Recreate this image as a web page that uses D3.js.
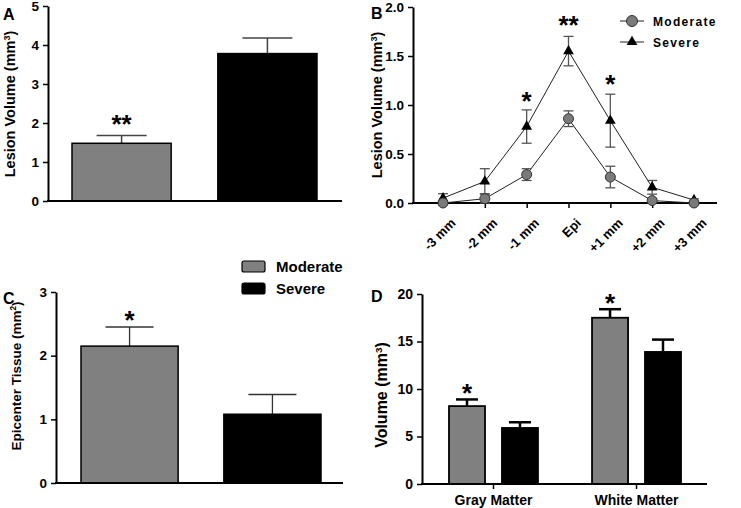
<!DOCTYPE html>
<html><head><meta charset="utf-8">
<script src="https://cdn.jsdelivr.net/npm/d3@7"></script>
<style>
body{margin:0;background:#fff;}
svg text{font-family:"Liberation Sans",Arial,sans-serif;font-weight:bold;}
</style></head>
<body>
<svg id="c" width="741" height="508"></svg>
<script>
// ---- data ----
const groupNames = ["Moderate", "Severe"];
// Panel A
const aValues = [1.48, 3.78];
const aErrors = [0.20, 0.40];
const aTicks = [0, 1, 2, 3, 4, 5];
// Panel B
const bPositions = ["-3 mm", "-2 mm", "-1 mm", "Epi", "+1 mm", "+2 mm", "+3 mm"];
const bModerate = [0.0, 0.044, 0.29, 0.86, 0.265, 0.025, 0.0];
const bModerateErr = [0.0, 0.05, 0.06, 0.08, 0.11, 0.02, 0.0];
const bSevere = [0.05, 0.22, 0.78, 1.55, 0.84, 0.16, 0.03];
const bSevereErr = [0.045, 0.13, 0.17, 0.15, 0.27, 0.07, 0.012];
const bTicks = [0, 0.5, 1.0, 1.5, 2.0];
const bStars = ["", "", "*", "**", "*", "", ""];
// Panel C
const cValues = [2.15, 1.08];
const cErrors = [0.30, 0.31];
const cTicks = [0, 1, 2, 3];
// Panel D
const dRegions = ["Gray Matter", "White Matter"];
const dModerate = [8.2, 17.5];
const dModerateErr = [0.7, 0.9];
const dSevere = [5.9, 13.9];
const dSevereErr = [0.6, 1.3];
const dTicks = [0, 5, 10, 15, 20];

const colors = {Moderate: "#808080", Severe: "#000000"};
const svg = d3.select("#c");

function yAxis(g, y, ticks, fmt, x, fs) {
  const ax = g.append("g").attr("transform", `translate(${x},0)`)
    .call(d3.axisLeft(y).tickValues(ticks).tickFormat(fmt).tickSize(5).tickSizeOuter(0).tickPadding(4));
  ax.select(".domain").attr("stroke-width", 2).attr("stroke", "#000");
  ax.selectAll(".tick line").attr("stroke-width", 1.5).attr("stroke", "#000");
  ax.selectAll(".tick text").attr("font-size", fs || 13).attr("fill", "#000")
    .attr("font-family", "Liberation Sans, Arial, sans-serif").attr("font-weight", "bold");
  return ax;
}
function hLine(g, x1, x2, y) {
  g.append("line").attr("x1", x1).attr("x2", x2).attr("y1", y).attr("y2", y)
    .attr("stroke", "#000").attr("stroke-width", 2);
}
function yLabel(g, x, y, parts, fs) {
  const t = g.append("text").attr("transform", `translate(${x},${y}) rotate(-90)`)
    .attr("text-anchor", "middle").attr("font-size", fs).attr("fill", "#000");
  parts.forEach(p => {
    const ts = t.append("tspan").text(p.t);
    if (p.sup) ts.attr("baseline-shift", "super").attr("font-size", fs * 0.62);
  });
}
function panelLetter(x, y, s) {
  svg.append("text").attr("x", x).attr("y", y).attr("font-size", 16).text(s);
}
function star(g, x, y, s) {
  g.append("text").attr("x", x).attr("y", y + 15).attr("text-anchor", "middle")
    .attr("font-size", 26).text(s);
}
function upErr(g, x, yTop, yBar, w, color, sw) {
  g.append("line").attr("x1", x).attr("x2", x).attr("y1", yBar).attr("y2", yTop)
    .attr("stroke", color).attr("stroke-width", sw);
  g.append("line").attr("x1", x - w / 2).attr("x2", x + w / 2).attr("y1", yTop).attr("y2", yTop)
    .attr("stroke", color).attr("stroke-width", sw);
}

// ===== Panel A =====
{
  const g = svg.append("g");
  const x = d3.scaleBand().domain(groupNames).range([72, 317]).paddingInner(0.32).paddingOuter(0);
  const y = d3.scaleLinear().domain([0, 5]).range([201, 6]);
  groupNames.forEach((k, i) => {
    upErr(g, x(k) + x.bandwidth() / 2, y(aValues[i] + aErrors[i]), y(aValues[i]), 50, "#444", 1.5);
  });
  g.selectAll("rect").data(groupNames).enter().append("rect")
    .attr("x", d => x(d)).attr("width", x.bandwidth())
    .attr("y", (d, i) => y(aValues[i])).attr("height", (d, i) => y(0) - y(aValues[i]))
    .attr("fill", d => colors[d]).attr("stroke", "#000").attr("stroke-width", 1.5);
  yAxis(g, y, aTicks, d3.format("d"), 48, 13.5);
  hLine(g, 47, 342, y(0));
  star(g, x("Moderate") + x.bandwidth() / 2, 118, "**");
  yLabel(g, 15, 104, [{t: "Lesion  Volume (mm"}, {t: "3", sup: true}, {t: ")"}], 14.5);
  panelLetter(3, 20, "A");
}

// ===== Panel B =====
{
  const g = svg.append("g");
  const x = d3.scalePoint().domain(bPositions).range([443, 694]);
  const y = d3.scaleLinear().domain([0, 2]).range([203, 7]);
  yAxis(g, y, bTicks, d3.format(".1f"), 413, 13.5);
  const xa = g.append("g").attr("transform", `translate(0,${y(0)})`)
    .call(d3.axisBottom(x).tickSize(5).tickSizeOuter(0).tickPadding(3));
  xa.select(".domain").remove();
  xa.selectAll(".tick line").attr("stroke-width", 1.5);
  xa.selectAll(".tick text").attr("font-size", 13).attr("fill", "#000")
    .attr("font-family", "Liberation Sans, Arial, sans-serif").attr("font-weight", "bold")
    .attr("text-anchor", "end").attr("dy", "0.35em")
    .attr("transform", "translate(4,12) rotate(-45)");
  hLine(g, 412, 717, y(0));

  const line = d3.line().x((d, i) => x(bPositions[i])).y(d => y(d));
  g.append("path").datum(bModerate).attr("d", line).attr("fill", "none").attr("stroke", "#222").attr("stroke-width", 1);
  g.append("path").datum(bSevere).attr("d", line).attr("fill", "none").attr("stroke", "#222").attr("stroke-width", 1);

  function errs(vals, errsArr) {
    vals.forEach((v, i) => {
      const cx = x(bPositions[i]);
      if (errsArr[i] <= 0) return;
      const t = y(v + errsArr[i]), b = y(Math.max(0, v - errsArr[i]));
      g.append("line").attr("x1", cx).attr("x2", cx).attr("y1", t).attr("y2", b).attr("stroke", "#555").attr("stroke-width", 1.3);
      [t, b].forEach(yy => g.append("line").attr("x1", cx - 5).attr("x2", cx + 5).attr("y1", yy).attr("y2", yy)
        .attr("stroke", "#555").attr("stroke-width", 1.3));
    });
  }
  errs(bSevere, bSevereErr);
  errs(bModerate, bModerateErr);
  const tri = d3.symbol().type(d3.symbolTriangle).size(50);
  g.selectAll(".tri").data(bSevere).enter().append("path").attr("class", "tri")
    .attr("d", tri).attr("transform", (d, i) => `translate(${x(bPositions[i])},${y(d)})`).attr("fill", "#000");
  g.selectAll(".cir").data(bModerate).enter().append("circle").attr("class", "cir")
    .attr("cx", (d, i) => x(bPositions[i])).attr("cy", d => y(d)).attr("r", 5)
    .attr("fill", "#7a7a7a").attr("stroke", "#333").attr("stroke-width", 1);
  const starY = {2: 95, 3: 19, 4: 78};
  bStars.forEach((s, i) => { if (s) star(g, x(bPositions[i]), starY[i], s); });

  // legend
  const lg = g.append("g");
  [[groupNames[0], 21], [groupNames[1], 42]].forEach(([name, ly]) => {
    lg.append("line").attr("x1", 620).attr("x2", 644).attr("y1", ly).attr("y2", ly).attr("stroke", "#222").attr("stroke-width", 1);
    if (name === "Moderate") {
      lg.append("circle").attr("cx", 632).attr("cy", ly).attr("r", 5.5).attr("fill", "#7a7a7a").attr("stroke", "#333");
    } else {
      lg.append("path").attr("d", tri).attr("transform", `translate(632,${ly})`).attr("fill", "#000");
    }
    lg.append("text").attr("x", 653).attr("y", ly + 4.5).attr("font-size", 12).attr("letter-spacing", 1.3).text(name);
  });
  yLabel(g, 382, 105, [{t: "Lesion  Volume (mm"}, {t: "3", sup: true}, {t: ")"}], 14.5);
  panelLetter(371, 19, "B");
}

// ===== Panel C =====
{
  const g = svg.append("g");
  const x = d3.scaleBand().domain(groupNames).range([81, 321]).paddingInner(0.32).paddingOuter(0);
  const y = d3.scaleLinear().domain([0, 3]).range([483, 292]);
  groupNames.forEach((k, i) => {
    upErr(g, x(k) + x.bandwidth() / 2, y(cValues[i] + cErrors[i]), y(cValues[i]), 48, "#333", 1.3);
  });
  g.selectAll("rect").data(groupNames).enter().append("rect")
    .attr("x", d => x(d)).attr("width", x.bandwidth())
    .attr("y", (d, i) => y(cValues[i])).attr("height", (d, i) => y(0) - y(cValues[i]))
    .attr("fill", d => colors[d]).attr("stroke", "#000").attr("stroke-width", 1.5);
  yAxis(g, y, cTicks, d3.format("d"), 56, 13.5);
  hLine(g, 55, 343, y(0));
  star(g, x("Moderate") + x.bandwidth() / 2, 314, "*");
  yLabel(g, 21, 376, [{t: "Epicenter Tissue (mm"}, {t: "2", sup: true}, {t: ")"}], 13.5);
  panelLetter(3, 304, "C");
  // legend
  groupNames.forEach((name, i) => {
    const ly = 261 + i * 22;
    g.append("rect").attr("x", 242).attr("y", ly).attr("width", 23).attr("height", 11).attr("rx", 2)
      .attr("fill", colors[name]).attr("stroke", "#000").attr("stroke-width", 1.2);
    g.append("text").attr("x", 276).attr("y", ly + 11).attr("font-size", 15).text(name);
  });
}

// ===== Panel D =====
{
  const g = svg.append("g");
  const x0 = d3.scaleBand().domain(dRegions).range([449, 681]).paddingInner(0.378).paddingOuter(0);
  const x1 = d3.scaleBand().domain(groupNames).range([0, x0.bandwidth()]).paddingInner(0.32).paddingOuter(0);
  const y = d3.scaleLinear().domain([0, 20]).range([484, 294]);
  const series = {Moderate: [dModerate, dModerateErr], Severe: [dSevere, dSevereErr]};
  dRegions.forEach((r, ri) => {
    groupNames.forEach(k => {
      const v = series[k][0][ri], e = series[k][1][ri];
      const bx = x0(r) + x1(k);
      upErr(g, bx + x1.bandwidth() / 2, y(v + e), y(v), 22, "#000", 2.5);
      g.append("rect").attr("x", bx).attr("width", x1.bandwidth()).attr("y", y(v)).attr("height", y(0) - y(v))
        .attr("fill", colors[k]).attr("stroke", "#000").attr("stroke-width", 1.8);
    });
  });
  yAxis(g, y, dTicks, d3.format("d"), 422, 14);
  const xa = g.append("g").attr("transform", `translate(0,${y(0)})`)
    .call(d3.axisBottom(x0).tickSize(5).tickSizeOuter(0).tickPadding(6));
  xa.select(".domain").remove();
  xa.selectAll(".tick line").attr("stroke-width", 1.5);
  xa.selectAll(".tick text").attr("font-size", 14).attr("fill", "#000")
    .attr("font-family", "Liberation Sans, Arial, sans-serif").attr("font-weight", "bold");
  hLine(g, 421, 707, y(0));
  star(g, x0("Gray Matter") + x1("Moderate") + x1.bandwidth() / 2, 387, "*");
  star(g, x0("White Matter") + x1("Moderate") + x1.bandwidth() / 2, 297, "*");
  yLabel(g, 387, 395, [{t: "Volume (mm"}, {t: "3", sup: true}, {t: ")"}], 16);
  panelLetter(371, 302, "D");
}
</script>
</body></html>
